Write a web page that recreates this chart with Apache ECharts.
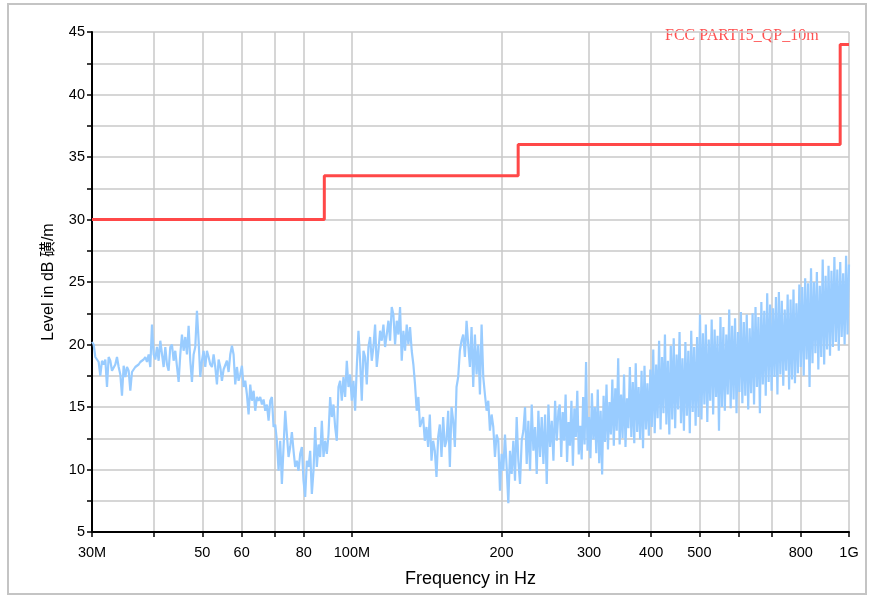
<!DOCTYPE html>
<html>
<head>
<meta charset="utf-8">
<script src="https://cdn.jsdelivr.net/npm/echarts@6/dist/echarts.min.js"></script>
<style>
html,body{margin:0;padding:0;background:#fff;}
#chart{width:870px;height:597px;}
</style>
</head>
<body>
<div id="chart"></div>
<script>
// ---- tick labels ----
const xTickValues = [30, 40, 50, 60, 70, 80, 100, 200, 300, 400, 500, 600, 700, 800, 1000];
const xLabelValues = [30, 50, 60, 80, 100, 200, 300, 400, 500, 800, 1000];
const xLabelText = {30: '30M', 100: '100M', 1000: '1G'};

// ---- limit line FCC PART15 QP 10m (MHz, dB) ----
const limitFreq = [30, 88, 88, 216, 216, 960, 960, 1000];
const limitLevel = [30, 30, 33.5, 33.5, 36, 36, 44, 44];

const segStart = [30, 64.9, 138, 261.9];
const segEnd = [64.4, 137.1, 260.3, 1000];
const seg1Levels = [20.2,20.0,19.0,18.8,18.6,17.5,18.7,18.4,18.8,16.6,19.0,18.7,17.9,17.8,18.4,19.0,18.2,17.6,15.9,18.3,
17.4,18.2,17.9,16.3,17.8,17.8,18.2,18.3,18.4,18.6,18.7,18.8,19.0,18.6,19.2,18.2,21.6,19.2,18.8,19.8,
18.7,20.3,20.4,18.2,19.8,18.4,17.9,19.8,20.0,18.7,19.5,19.6,17.0,19.2,20.8,19.5,20.6,19.2,21.5,18.7,
17.0,19.2,19.8,22.7,20.3,17.4,18.7,19.5,18.2,19.5,19.0,18.4,18.2,19.2,18.2,16.8,18.8,18.2,17.1,18.0,
17.9,18.7,17.8,19.2,19.9,19.2,16.8,18.2,17.1,17.6,18.3,16.6,17.1,16.0,14.4,16.8,15.5,16.3,14.7,15.8];
const seg2Levels = [15.5,15.8,15.2,15.6,14.7,15.2,13.9,15.5,15.8,13.4,13.6,12.3,9.9,12.3,8.85,11.8,14.7,12.8,11.0,11.8,
13.0,11.5,10.2,10.7,9.9,11.25,11.8,9.1,7.8,10.7,10.2,11.5,8.05,9.9,13.4,10.2,12.0,11.0,13.9,11.0,
12.3,11.25,12.8,15.8,14.2,15.2,13.4,12.3,16.6,17.1,15.5,17.4,15.8,18.7,16.6,17.6,15.5,17.1,14.7,18.2,
21.1,18.7,15.5,19.5,19.0,16.8,19.8,20.6,18.7,19.8,21.6,18.2,19.5,21.1,20.3,21.6,19.8,20.8,21.9,20.3,
23.0,22.4,20.0,21.9,20.8,23.0,18.7,21.1,19.5,21.6,20.0,21.4,19.5,18.4,16.8,14.7,15.8,13.4];
const seg3Levels = [13.4,14.2,12.3,13.4,11.8,14.4,10.7,12.3,11.5,9.4,12.6,13.6,11.0,14.2,11.8,12.3,14.7,10.2,15.0,13.9,
11.8,16.6,17.4,19.5,20.3,20.8,19.0,21.9,20.0,18.2,21.4,16.6,20.8,17.6,20.0,16.0,21.6,17.4,16.0,14.7,
15.5,13.1,14.4,13.4,11.0,12.8,12.3,8.3,11.25,9.9,12.8,10.2,7.3,11.5,9.65,12.3,9.1,14.2,10.7,8.85,
12.3,13.1,15.0,10.45,13.9,9.9,15.2,11.5,13.4,9.65,14.7,11.0,14.2,10.45,14.4,8.85,15.2,11.8,13.9,10.7,
15.5,12.3,14.7];
const seg4Levels = [15.2,11.0,14.6,12.3,16.0,10.6,13.8,11.9,15.5,10.3,14.9,12.6,16.3,11.2,13.5,10.8,15.8,12.0,18.6,11.5,
14.2,10.9,16.1,12.4,15.0,11.3,16.4,10.5,14.7,
9.6,15.9,12.2,16.8,11.6,15.4,12.8,17.2,11.9,16.5,13.1,18.9,12.0,16.0,12.5,17.6,11.8,15.7,13.3,18.2,
12.6,17.0,12.1,18.5,13.0,16.6,12.4,17.9,11.7,18.3,13.2,16.9,12.7,18.0,
13.4,19.6,12.9,18.4,14.1,20.3,13.2,19.0,14.5,20.8,13.6,18.7,12.8,19.9,14.0,20.5,13.3,19.2,14.8,21.0,
13.7,18.9,13.1,20.2,14.3,19.5,12.9,21.1,14.6,19.8,13.5,20.6,14.2,22.4,
14.0,20.9,15.2,21.6,13.8,20.4,15.5,22.0,14.4,21.2,15.8,20.7,13.1,22.2,15.0,21.4,14.7,20.8,16.0,22.8,
14.9,21.5,15.6,22.1,14.5,21.0,16.2,22.6,15.3,21.8,15.9,22.4,14.8,21.3,
16.1,22.5,15.2,23.0,16.6,22.2,14.5,23.4,16.8,22.7,15.9,24.1,17.0,23.2,16.3,22.9,17.4,23.8,16.0,24.2,
17.6,23.5,16.7,22.8,17.9,24.0,16.4,23.6,17.2,24.4,16.9,23.3,17.7,24.8,
18.2,24.6,17.5,25.3,18.8,24.9,16.6,26.1,18.5,25.0,19.3,25.8,18.0,24.7,19.0,26.8,18.4,25.5,19.6,26.3,
19.1,25.9,19.8,27.0,20.2,26.0,19.5,26.6,20.6,25.7,20.0,27.1,20.8,26.4];

const segLevels = [seg1Levels, seg2Levels, seg3Levels, seg4Levels];
const trace = [];
segLevels.forEach(function (lv, s) {
  const f0 = segStart[s], f1 = segEnd[s], n = lv.length;
  for (let i = 0; i < n; i++) {
    const f = f0 * Math.pow(f1 / f0, i / (n - 1));
    trace.push([f, lv[i]]);
  }
});
const limit = limitFreq.map(function (f, i) { return [f, limitLevel[i]]; });

const chart = echarts.init(document.getElementById('chart'), null, {renderer: 'canvas'});
const font = "'Liberation Sans', Arial, 'Noto Sans CJK SC', sans-serif";
chart.setOption({
  animation: false,
  backgroundColor: '#fff',
  grid: {left: 92, right: 21, top: 32, bottom: 65, containLabel: false},
  graphic: [
    {type: 'rect', shape: {x: 8, y: 4, width: 858, height: 590}, style: {fill: 'none', stroke: '#c4c4c4', lineWidth: 2}, z: -10},
    {type: 'text', left: 665, top: 28, style: {text: 'FCC PART15_QP_10m', fill: '#ff5050', font: "16px 'Liberation Serif', 'DejaVu Serif', serif"}}
  ],
  xAxis: {
    type: 'log', logBase: 10, min: 30, max: 1000,
    name: 'Frequency in Hz', nameLocation: 'middle', nameGap: 38,
    nameTextStyle: {fontFamily: font, fontSize: 18, color: '#000'},
    axisLine: {show: true, onZero: false, lineStyle: {color: '#000', width: 2}},
    axisTick: {show: true, length: 5, customValues: xTickValues, lineStyle: {color: '#000', width: 1.5}},
    axisLabel: {customValues: xLabelValues, fontFamily: font, fontSize: 14.5, color: '#000', margin: 14,
      formatter: function (v) { const r = Math.round(v); return xLabelText[r] || String(r); }},
    splitLine: {show: true, lineStyle: {color: '#c8c8c8', width: 1.5}},
    minorTick: {show: false}
  },
  yAxis: {
    type: 'value', min: 5, max: 45, interval: 2.5,
    name: 'Level in dB 磺/m', nameLocation: 'middle', nameGap: 35, nameRotate: 90,
    nameTextStyle: {fontFamily: font, fontSize: 16, color: '#000'},
    axisLine: {show: true, onZero: false, lineStyle: {color: '#000', width: 2}},
    axisTick: {show: true, length: 5, lineStyle: {color: '#000', width: 1.5}},
    axisLabel: {fontFamily: font, fontSize: 14.5, color: '#000', margin: 7,
      formatter: function (v) { return v % 5 === 0 ? String(v) : ''; }},
    splitLine: {show: true, lineStyle: {color: '#c8c8c8', width: 1.5}}
  },
  series: [
    {type: 'line', data: trace, symbol: 'none', lineStyle: {color: '#99ccff', width: 2.2}, z: 2},
    {type: 'line', data: limit, symbol: 'none', lineStyle: {color: '#ff4848', width: 3}, z: 3}
  ]
});
</script>
</body>
</html>
